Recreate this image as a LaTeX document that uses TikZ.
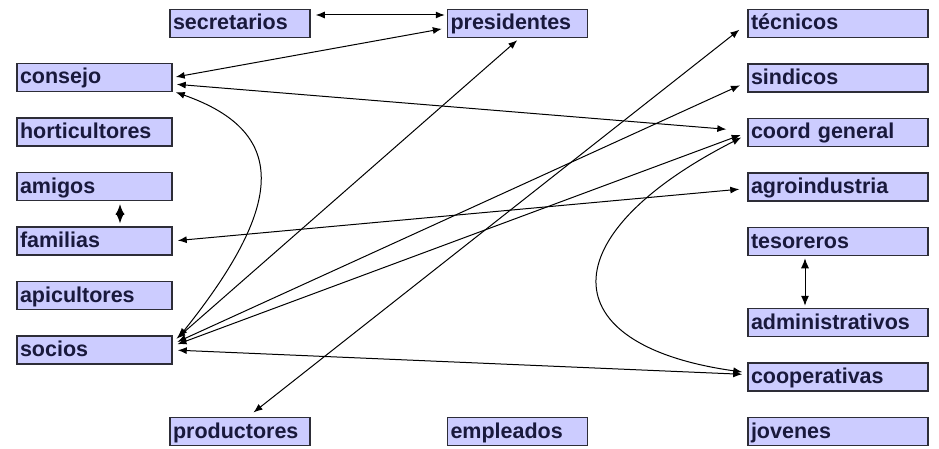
\documentclass[tikz,border=0pt]{standalone}
\usepackage{fontspec}
\setmainfont{Liberation Sans}
\usetikzlibrary{positioning,arrows.meta}
\definecolor{boxfill}{RGB}{204,204,255}
\definecolor{boxline}{RGB}{45,45,55}
\definecolor{boxtext}{RGB}{25,25,60}
\begin{document}
\begin{tikzpicture}[x=1pt, y=1pt, node distance={54.5pt}, line width=1pt,
    >={Latex[length=9pt,width=7pt]},
    main/.style = {draw=boxline, line width=1.5pt, fill=boxfill, text=boxtext,
      font=\bfseries\fontsize{21.5}{24}\selectfont, align=left,
      inner xsep=3pt, inner ysep=0pt, minimum height=28pt,
      text height=16pt, text depth=3pt},
    lft/.style = {text width=149pt},
    mid/.style = {text width=134pt},
    rgt/.style = {text width=174pt}]
    \useasboundingbox (0,0) rectangle (939,448);
    % left column
    \node[main, lft] (1) at (94.5,370.5) {consejo};
    \node[main, lft] (2) [below of=1] {horticultores};
    \node[main, lft] (3) [below of=2] {amigos};
    \node[main, lft] (4) [below of=3] {familias};
    \node[main, lft] (5) [below of=4] {apicultores};
    \node[main, lft] (6) [below of=5] {socios};
    % top and bottom rows
    \node[main, mid] (7) at (240,424.5) {secretarios};
    \node[main, mid] (8) [right of=7, node distance=277.5pt] {presidentes};
    \node[main, mid] (9) at (240,16.5) {productores};
    \node[main, mid] (10) [right of=9, node distance=277.5pt] {empleados};
    % right column
    \node[main, rgt] (11) at (838,424.5) {técnicos};
    \node[main, rgt] (12) [below of=11] {sindicos};
    \node[main, rgt] (13) [below of=12] {coord general};
    \node[main, rgt] (14) [below of=13] {agroindustria};
    \node[main, rgt] (15) [below of=14] {tesoreros};
    \node[main, rgt] (16) [below of=15, node distance=81pt] {administrativos};
    \node[main, rgt] (17) [below of=16] {cooperativas};
    \node[main, rgt] (18) [below of=17] {jovenes};
    % links
    \draw[<->, shorten <=5pt, shorten >=2pt] ([yshift=8.5pt]7.east) -- ([yshift=8.5pt]8.west);
    \draw[<->, shorten <=3pt, shorten >=5pt] (1.east) -- ([yshift=-4.5pt]8.west);
    \draw[<->, shorten <=4pt, shorten >=21pt] ([yshift=-6.5pt]1.east) -- ([yshift=1.5pt]13.west);
    \draw[<->] ([xshift=3pt]1.south east) .. controls (292,315) and (282,240) .. ([xshift=6pt,yshift=-2pt]6.north east);
    \draw[<->, >={Latex[length=10.5pt,width=9pt]}, shorten <=3pt, shorten >=3pt] ([xshift=25.5pt]3.south) -- ([xshift=25.5pt]4.north);
    \draw[<->, shorten <=5pt, shorten >=8pt] (4.east) -- ([yshift=-1.5pt]14.west);
    \draw[<->, shorten <=5pt, shorten >=3pt] ([yshift=8pt]6.east) -- ([xshift=2pt]8.south);
    \draw[<->, shorten <=5pt, shorten >=8pt] ([yshift=6pt]6.east) -- ([yshift=-4pt]12.west);
    \draw[<->, shorten <=5pt, shorten >=7pt] ([yshift=4pt]6.east) -- (13.west);
    \draw[<->, shorten <=5pt, shorten >=5pt] (6.east) -- ([yshift=2.5pt]17.west);
    \draw[<->, shorten <=7pt, shorten >=10pt] ([xshift=8pt]9.north) -- (11.west);
    \draw[<->] ([xshift=-6pt,yshift=-5pt]13.west) .. controls (550,213) and (550,103) .. ([xshift=-5pt,yshift=5pt]17.west);
    \draw[<->, >={Latex[length=10pt,width=8pt]}, shorten <=2pt, shorten >=2pt] ([xshift=-33pt]15.south) -- ([xshift=-33pt]16.north);
  \end{tikzpicture}
\end{document}
